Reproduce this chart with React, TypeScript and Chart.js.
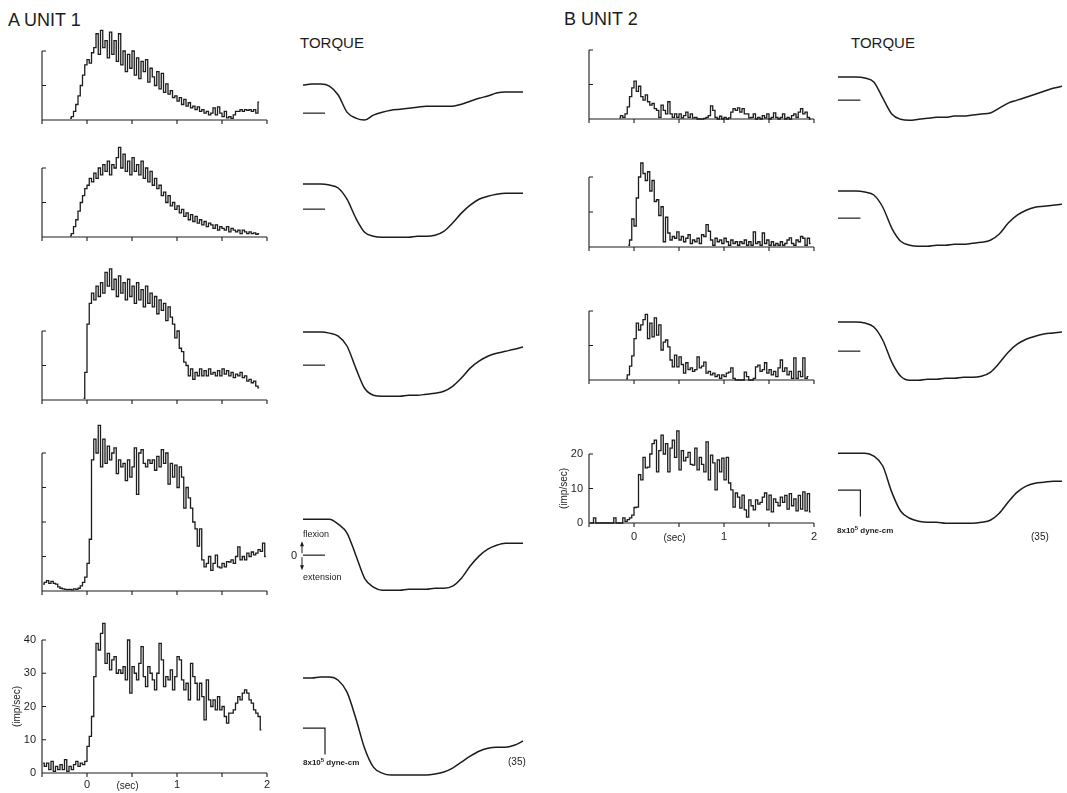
import React, { useEffect, useRef } from "react";
import { Chart, registerables } from "chart.js";

Chart.register(...registerables);

// Discharge histograms: 25 ms bins from -0.5 s to 2.0 s (100 bins)
const BIN_START = -0.5;
const BIN_WIDTH = 0.025;
const TIME_TICKS = [-0.5, 0, 0.5, 1, 1.5, 2];
const TIME_LABELS = [0, 1, 2];
// Torque records sampled every 100 ms, in units of 10^5 dyne-cm
const TORQUE_TIMES = [-0.5, -0.4, -0.3, -0.2, -0.1, 0, 0.1, 0.2, 0.3, 0.4, 0.5, 0.6, 0.7, 0.8, 0.9, 1.0, 1.1, 1.2, 1.3, 1.4, 1.5, 1.6, 1.7, 1.8, 1.9, 2.0];
const TORQUE_BAR = 8;

const N = null;

// Unit 1 firing rate (imp/sec)
const unit1Rate1 = [
  N, N, N, N, N, N, N, N, N, N, N, N, 0.5, 1, 2.5, 4.5, 7, 10, 13, 16,
  17.5, 16.5, 19.5, 21, 25, 19, 26, 21, 23, 18,
  25.5, 19, 23, 17, 25, 16, 20, 14, 19, 15,
  20, 13, 18, 12, 17, 14, 17.5, 11, 15, 12.5,
  10, 14, 9, 13.5, 8, 10.5, 7.5, 8.5, 6.5, 7,
  5.5, 6.5, 4.5, 6, 4, 5, 3.5, 4, 3, 3.8,
  2.5, 3, 2, 2.5, 1.5, 2, 3.5, 1.5, 3.8, 2,
  1, 2.5, 0.6, 1, 0.5, 1.5, 2.5, 2.5, 3, 2.5,
  3, 2.8, 3, 2.5, 3, 2, 5.2, N, N, N,
];
const unit1Rate2 = [
  N, N, N, N, N, N, N, N, N, N, N, N, 0.3, 1, 3, 5, 7.5, 10, 12, 14,
  15, 17, 16, 18.5, 17, 20, 18, 21, 19, 22,
  18, 21, 20, 23, 26, 20, 24, 19, 22, 18,
  23, 19, 21, 18, 22, 17, 20, 16, 19, 15,
  17, 14, 15, 12, 13, 10, 12, 9, 10, 8,
  9, 7, 8, 6, 7, 5, 6.5, 4.5, 6, 4,
  5, 3.5, 4.5, 3, 4, 3.5, 2.5, 3.5, 2, 3,
  2.5, 2, 3, 1.5, 2.5, 2, 1.5, 2, 1, 2,
  1.5, 1, 1.5, 1, 1.2, 0.8, 1, N, N, N,
];
const unit1Rate3 = [
  N, N, N, N, N, N, N, N, N, N, N, N, N, N, N, N, N, N, 0.5, 8,
  22, 28, 31, 29, 33, 30, 34, 31, 37, 33,
  38, 32, 35, 30, 36, 31, 34, 29, 35, 30,
  33, 28, 34, 29, 32, 27, 33, 28, 31, 27,
  30, 25, 29, 26, 28, 23, 27, 24, 22, 18,
  20, 15, 14, 11, 10, 7, 9, 6, 8, 7,
  9, 7, 8.5, 7, 9, 7.5, 8, 7, 8.5, 7,
  9, 7.5, 8.5, 7, 8, 6.5, 7.5, 7, 8, 6.5,
  7, 5.5, 6, 5, 5.5, 4, 3.5, N, N, N,
];
const unit1Rate4 = [
  2, 2.5, 3, 2.2, 2.8, 2.2, 2, 1.2, 0.8, 0.6,
  0.5, 0.4, 0.5, 0.3, 0.6, 0.5, 0.8, 1.5, 2.5, 4,
  8, 15, 38, 44, 40, 48, 36, 44, 37, 42,
  38, 40, 41.5, 34, 38, 36, 37, 32, 38, 33,
  36, 41.5, 28, 40, 41, 37, 36, 38, 37, 38,
  35, 39, 36, 41, 37, 40, 31, 37, 33, 36.5,
  30, 36, 33, 24, 30, 27, 24, 20, 18, 13,
  18, 9, 7, 8, 10, 6, 8, 10.4, 7, 6.7,
  8, 7, 8.5, 8.4, 9, 8, 10, 12.8, 9, 10,
  9, 11, 10, 11.3, 10.5, 11, 12, 11.5, 13.9, 10,
];
const unit1Rate5 = [
  3, 2, 3, 1, 3.5, 0.5, 2, 1, 2.5, 1,
  4, 0.5, 2, 1, 2.5, 3.5, 2, 3, 2.5, 3.5,
  8, 11, 17, 29, 39, 37, 42, 45, 33, 36,
  31, 34, 35, 30, 31, 30, 32, 28, 40, 24,
  32, 30, 28, 33, 38, 29, 26, 32, 30, 28,
  25, 30, 39, 34, 26, 29, 28, 31, 25, 29,
  35, 34, 28, 25, 27, 22, 33, 29, 27, 22,
  27, 23, 16, 28, 22, 20, 22, 19, 23, 19,
  20, 17, 15, 18, 18, 19, 21, 23, 22, 24,
  25, 24, 22, 21, 19, 18, 17, 13, N, N,
];

// Unit 2 firing rate (imp/sec)
const unit2Rate1 = [
  N, N, N, N, N, N, N, N, N, N, N, N, N, 0.3, 1, 0.5, 1.5, 3.5, 6.5, 9,
  11, 8, 9.5, 6.5, 5.5, 7, 5, 4, 4.5, 3,
  2.5, 0.5, 4, 2.5, 1.5, 5, 1.5, 0.5, 1.5, 0.5,
  1.5, 0.3, 1, 2, 0.5, 1.5, 0.3, 0.5, 0, 0,
  0, 0.2, 0.5, 1, 3.8, 2.5, 0.5, 0, 0.8, 0,
  0.5, 0, 0.3, 2, 3, 2.5, 3.2, 2, 3, 1.5,
  1.5, 0.3, 0.5, 1.5, 0, 0.5, 0, 1, 0.3, 1.5,
  0, 0.5, 1.8, 0.5, 0, 0.5, 1.5, 0, 0.5, 0,
  1, 1.5, 0.5, 2, 3, 1.5, 2, 0.5, 0, N,
];
const unit2Rate2 = [
  N, N, N, N, N, N, N, N, N, N, N, N, N, N, N, N, N, 0.5, 2, 8,
  6, 14, 20, 24, 21, 19, 21.5, 16, 19, 13,
  13.5, 9, 11.5, 1.5, 8.5, 4, 2, 3, 2.5, 4.3,
  2, 3, 1.5, 2.5, 3.5, 1, 2, 1.5, 2.5, 1,
  3.5, 3, 6.4, 4.5, 2, 0.5, 2.5, 1.5, 2, 1,
  2.5, 1.5, 0.5, 2, 1, 1.5, 0.5, 1.5, 1, 2,
  0.5, 1.5, 0.5, 4.3, 1, 1.5, 0.5, 4, 1, 2,
  0.5, 1.5, 0.5, 1, 0.5, 1.5, 0.5, 1, 2, 2.6,
  1, 0.5, 2, 1.5, 3, 2.5, 0.5, 2.5, 1, N,
];
const unit2Rate3 = [
  N, N, N, N, N, N, N, N, N, N, N, N, N, N, N, N, 0.3, 1.5, 4, 7,
  12, 16.5, 14.5, 16, 17.5, 19, 12, 16.5, 12.5, 18,
  13, 16, 8.7, 11, 11.6, 9.6, 5.8, 3.8, 7.2, 3.8,
  6.7, 4.5, 2, 5, 3, 3.5, 2.5, 3, 6.7, 3.5,
  4, 5.2, 2, 2.5, 1.5, 2, 1, 1.5, 0.5, 1.5,
  1, 2, 2.3, 3.5, 0.5, 0, 0, 0, 0, 2.3,
  1, 0, 0, 0.5, 3.8, 4.3, 2.5, 3, 5, 2,
  3, 1.5, 2.5, 1, 3.5, 5.8, 2.5, 3.5, 1.5, 2.5,
  0.5, 6.4, 0.5, 2.5, 1, 6.4, 0.5, 1, N, N,
];
const unit2Rate4 = [
  0, 0, 1.5, 0, 0, 0, 0, 0, 0, 0,
  0, 1.5, 0, 0, 0, 1.5, 0.5, 1, 1.5, 2.3,
  4.5, 4.6, 14, 12.5, 19, 16, 16.2, 20, 23, 24,
  14.8, 21, 25.5, 20, 23, 14.8, 21.7, 24, 19, 26.7,
  15.4, 21, 18, 19, 20.5, 17, 16.8, 21.7, 15.4, 19,
  17, 14.8, 23.5, 12.5, 19.7, 17.4, 9.6, 18.3, 14.8, 18.8,
  12.5, 19, 11.6, 9.6, 4.6, 8.7, 7.5, 4.3, 8.1, 3.8,
  1.7, 6.7, 5, 3.8, 6.7, 5.5, 6, 7.5, 8.7, 3.8,
  8.1, 3.2, 7, 6, 5, 7.5, 6, 8, 4, 8.5,
  5, 7, 3.5, 8, 4, 9, 3.5, 8.5, 3.2, N,
];

// Torque (10^5 dyne-cm, flexion positive)
const unit1Torque1 = [8.5, 8.8, 8.8, 8.2, 5.5, 0.3, -1.5, -2.1, -0.6, 0.3, 0.9, 1.2, 1.5, 1.8, 2.1, 2.1, 2.1, 2.1, 2.7, 3.6, 4.5, 5.2, 6.1, 6.4, 6.4, 6.4];
const unit1Torque2 = [7.6, 7.6, 7.6, 7.3, 6.4, 3.0, -2.7, -7.0, -8.2, -8.5, -8.5, -8.5, -8.5, -8.2, -8.2, -7.9, -6.7, -4.2, -1.2, 1.2, 3.0, 3.9, 4.5, 4.8, 4.8, 4.8];
const unit1Torque3 = [10.0, 10.0, 10.0, 9.7, 8.8, 5.8, -0.9, -7.0, -9.1, -9.4, -9.4, -9.4, -9.1, -9.1, -8.8, -8.5, -7.9, -6.4, -3.9, -0.9, 1.2, 2.7, 3.6, 4.2, 4.8, 5.5];
const unit1Torque4 = [10.9, 10.9, 10.9, 10.9, 9.4, 6.7, 0, -7.0, -9.7, -10.6, -10.6, -10.6, -10.3, -10.3, -10.3, -10.0, -10.0, -9.4, -7.0, -3.3, -0.3, 1.8, 3.0, 3.6, 3.6, 3.6];
const unit1Torque5 = [15.2, 15.2, 15.5, 15.5, 14.5, 10.9, 3.0, -6.1, -11.8, -13.6, -14.2, -14.2, -14.2, -14.2, -14.2, -13.9, -13.3, -12.1, -10.3, -8.5, -7.0, -6.1, -5.8, -5.8, -5.2, -3.9];
const unit2Torque1 = [7.0, 7.0, 7.0, 6.7, 5.5, 0.6, -4.2, -5.8, -6.1, -5.8, -5.5, -5.2, -5.2, -4.8, -4.8, -4.5, -4.2, -3.9, -2.4, -0.9, 0, 0.9, 1.8, 2.7, 3.6, 4.2];
const unit2Torque2 = [8.2, 8.2, 8.2, 7.9, 7.0, 3.3, -3.0, -7.0, -8.2, -8.5, -8.5, -8.2, -8.2, -7.9, -7.9, -7.6, -7.3, -6.7, -4.8, -1.5, 0.9, 2.4, 3.3, 3.6, 3.9, 4.2];
const unit2Torque3 = [8.8, 8.8, 8.8, 8.5, 7.3, 3.3, -3.3, -7.6, -8.8, -8.8, -8.5, -8.5, -8.2, -8.2, -7.9, -7.9, -7.6, -6.4, -3.6, -0.3, 2.1, 3.6, 4.5, 5.2, 5.5, 5.8];
const unit2Torque4 = [11.2, 11.2, 11.2, 11.2, 10.3, 7.3, -0.6, -6.4, -8.5, -9.4, -9.7, -9.7, -10.0, -10.0, -10.0, -10.0, -9.7, -9.1, -7.0, -3.6, -0.6, 1.2, 2.1, 2.4, 2.7, 2.7];

const INK = "#1c1c1c";
const FONT = '"Liberation Sans", Arial, sans-serif';

type HistSpec = {
  rates: (number | null)[];
  left: number;
  width: number;
  base: number;
  top: number;
  max: number;
  ticks: number[];
  labelled?: boolean;
  labelGap?: number;
};

type TorqueSpec = {
  values: number[];
  left: number;
  width: number;
  zero: number;
  bar?: boolean;
  arrows?: boolean;
};

const histograms: HistSpec[] = [
  { rates: unit1Rate1, left: 42, width: 225, base: 120, top: 51, max: 20, ticks: [10, 20] },
  { rates: unit1Rate2, left: 42, width: 225, base: 237, top: 168, max: 20, ticks: [10, 20] },
  { rates: unit1Rate3, left: 42, width: 225, base: 400, top: 331, max: 20, ticks: [10, 20] },
  { rates: unit1Rate4, left: 42, width: 225, base: 591, top: 453, max: 40, ticks: [10, 20, 30, 40] },
  { rates: unit1Rate5, left: 42, width: 225, base: 773, top: 640, max: 40, ticks: [10, 20, 30, 40], labelled: true, labelGap: 12 },
  { rates: unit2Rate1, left: 589, width: 225, base: 119, top: 50, max: 20, ticks: [10, 20] },
  { rates: unit2Rate2, left: 589, width: 225, base: 247, top: 177, max: 20, ticks: [10, 20] },
  { rates: unit2Rate3, left: 589, width: 225, base: 380, top: 311, max: 20, ticks: [10, 20] },
  { rates: unit2Rate4, left: 589, width: 225, base: 523, top: 454, max: 20, ticks: [10, 20], labelled: true, labelGap: 14 },
];

const TORQUE_MIN = -16;
const TORQUE_MAX = 17;
const TORQUE_HEIGHT = 109;

const torques: TorqueSpec[] = [
  { values: unit1Torque1, left: 303, width: 220, zero: 113 },
  { values: unit1Torque2, left: 303, width: 220, zero: 209 },
  { values: unit1Torque3, left: 303, width: 220, zero: 365 },
  { values: unit1Torque4, left: 303, width: 220, zero: 555, arrows: true },
  { values: unit1Torque5, left: 303, width: 220, zero: 728, bar: true },
  { values: unit2Torque1, left: 838, width: 224, zero: 100 },
  { values: unit2Torque2, left: 838, width: 224, zero: 218 },
  { values: unit2Torque3, left: 838, width: 224, zero: 351 },
  { values: unit2Torque4, left: 838, width: 224, zero: 490, bar: true },
];

function Histogram({ spec }: { spec: HistSpec }) {
  const ref = useRef<HTMLCanvasElement>(null);
  // room above the axis for peaks that rise past the last tick
  const peak = Math.max(...spec.rates.map((r) => (r == null ? 0 : r)));
  const pxPerUnit = (spec.base - spec.top) / spec.max;
  const headroom = Math.max(10, Math.ceil((peak - spec.max) * pxPerUnit) + 8);
  const pad = spec.labelled
    ? { left: 50, right: 14, top: headroom, bottom: 26 }
    : { left: 6, right: 8, top: headroom, bottom: 8 };
  const w = spec.width + pad.left + pad.right;
  const h = spec.base - spec.top + pad.top + pad.bottom;

  useEffect(() => {
    const axes = {
      id: "histAxes",
      beforeDatasetsDraw(chart: any) {
        const { ctx } = chart;
        const x = chart.scales.x;
        const y = chart.scales.y;
        const x0 = x.getPixelForValue(-0.5);
        const x1 = x.getPixelForValue(2);
        const y0 = y.getPixelForValue(0);
        const yTop = y.getPixelForValue(spec.max);
        ctx.save();
        ctx.strokeStyle = INK;
        ctx.lineWidth = 1.1;
        ctx.beginPath();
        ctx.moveTo(x0, yTop);
        ctx.lineTo(x0, y0);
        ctx.lineTo(x1, y0);
        spec.ticks.forEach((v) => {
          const py = y.getPixelForValue(v);
          ctx.moveTo(x0, py);
          ctx.lineTo(x0 + 4, py);
        });
        TIME_TICKS.forEach((t) => {
          const px = x.getPixelForValue(t);
          ctx.moveTo(px, y0);
          ctx.lineTo(px, y0 + 4);
        });
        ctx.stroke();
        if (spec.labelled) {
          ctx.fillStyle = INK;
          ctx.font = `11px ${FONT}`;
          ctx.textBaseline = "middle";
          ctx.textAlign = "right";
          [0, ...spec.ticks].forEach((v) => ctx.fillText(String(v), x0 - 6, y.getPixelForValue(v)));
          ctx.textAlign = "center";
          const gap = spec.labelGap || 13;
          TIME_LABELS.forEach((t) => ctx.fillText(String(t), x.getPixelForValue(t), y0 + gap));
          ctx.font = `10px ${FONT}`;
          ctx.fillText("(sec)", x.getPixelForValue(0.45), y0 + gap + 1);
          ctx.translate(x0 - 25, y.getPixelForValue(spec.max / 2));
          ctx.rotate(-Math.PI / 2);
          ctx.fillText("(imp/sec)", 0, 0);
        }
        ctx.restore();
      },
    };
    const chart = new Chart(ref.current as HTMLCanvasElement, {
      type: "line",
      data: {
        datasets: [
          {
            data: spec.rates.map((r, i) => ({ x: BIN_START + BIN_WIDTH * (i + 0.5), y: r })),
            borderColor: INK,
            borderWidth: 1.3,
            pointRadius: 0,
            stepped: "middle",
            fill: false,
            clip: false as any,
          } as any,
        ],
      },
      options: {
        responsive: false,
        animation: false,
        events: [],
        layout: { padding: pad },
        plugins: { legend: { display: false }, tooltip: { enabled: false } },
        scales: {
          x: { type: "linear", display: false, min: -0.5, max: 2 },
          y: { type: "linear", display: false, min: 0, max: spec.max },
        },
      },
      plugins: [axes],
    });
    return () => chart.destroy();
  }, []);

  return (
    <canvas
      ref={ref}
      width={w}
      height={h}
      style={{ position: "absolute", left: spec.left - pad.left, top: spec.top - pad.top, width: w, height: h }}
    />
  );
}

function Torque({ spec }: { spec: TorqueSpec }) {
  const ref = useRef<HTMLCanvasElement>(null);
  const pad = { left: 8, right: 8, top: 6, bottom: 6 };
  const w = spec.width + pad.left + pad.right;
  const h = TORQUE_HEIGHT + pad.top + pad.bottom;
  const areaTop = Math.round(spec.zero - (TORQUE_MAX / (TORQUE_MAX - TORQUE_MIN)) * TORQUE_HEIGHT);

  useEffect(() => {
    const marks = {
      id: "torqueMarks",
      afterDatasetsDraw(chart: any) {
        const { ctx } = chart;
        const x = chart.scales.x;
        const y = chart.scales.y;
        const xs = x.getPixelForValue(-0.5);
        const xe = x.getPixelForValue(-0.25);
        const yz = y.getPixelForValue(0);
        ctx.save();
        ctx.strokeStyle = INK;
        ctx.fillStyle = INK;
        ctx.lineWidth = 1.2;
        ctx.beginPath();
        ctx.moveTo(xs, yz);
        ctx.lineTo(xe, yz);
        if (spec.bar) {
          ctx.lineTo(xe, y.getPixelForValue(-TORQUE_BAR));
        }
        ctx.stroke();
        if (spec.arrows) {
          const ax = xs - 1;
          ctx.lineWidth = 1;
          ctx.beginPath();
          ctx.moveTo(ax, yz - 2);
          ctx.lineTo(ax, yz - 12);
          ctx.moveTo(ax, yz + 2);
          ctx.lineTo(ax, yz + 13);
          ctx.stroke();
          ctx.beginPath();
          ctx.moveTo(ax, yz - 14);
          ctx.lineTo(ax - 2, yz - 9);
          ctx.lineTo(ax + 2, yz - 9);
          ctx.closePath();
          ctx.moveTo(ax, yz + 15);
          ctx.lineTo(ax - 2, yz + 10);
          ctx.lineTo(ax + 2, yz + 10);
          ctx.closePath();
          ctx.fill();
        }
        ctx.restore();
      },
    };
    const chart = new Chart(ref.current as HTMLCanvasElement, {
      type: "line",
      data: {
        datasets: [
          {
            data: spec.values.map((v, i) => ({ x: TORQUE_TIMES[i], y: v })),
            borderColor: INK,
            borderWidth: 1.5,
            pointRadius: 0,
            cubicInterpolationMode: "monotone",
            fill: false,
            clip: false as any,
          } as any,
        ],
      },
      options: {
        responsive: false,
        animation: false,
        events: [],
        layout: { padding: pad },
        plugins: { legend: { display: false }, tooltip: { enabled: false } },
        scales: {
          x: { type: "linear", display: false, min: -0.5, max: 2 },
          y: { type: "linear", display: false, min: TORQUE_MIN, max: TORQUE_MAX },
        },
      },
      plugins: [marks],
    });
    return () => chart.destroy();
  }, []);

  return (
    <canvas
      ref={ref}
      width={w}
      height={h}
      style={{ position: "absolute", left: spec.left - pad.left, top: areaTop - pad.top, width: w, height: h }}
    />
  );
}

function Text({ x, y, size, children, weight }: { x: number; y: number; size: number; children: React.ReactNode; weight?: number }) {
  return (
    <div
      style={{
        position: "absolute",
        left: x,
        top: y,
        transform: "translateY(-50%)",
        fontFamily: FONT,
        fontSize: size,
        fontWeight: weight || 400,
        color: INK,
        lineHeight: 1,
        whiteSpace: "nowrap",
      }}
    >
      {children}
    </div>
  );
}

export default function App() {
  return (
    <div style={{ position: "absolute", left: 0, top: 0, width: 1067, height: 793, background: "#fff", overflow: "hidden" }}>
      <Text x={8} y={20} size={18}>A UNIT 1</Text>
      <Text x={300} y={42} size={15}>TORQUE</Text>
      <Text x={564} y={19} size={18}>B UNIT 2</Text>
      <Text x={851} y={42} size={15}>TORQUE</Text>

      {histograms.map((s, i) => (
        <Histogram key={`h${i}`} spec={s} />
      ))}
      {torques.map((s, i) => (
        <Torque key={`t${i}`} spec={s} />
      ))}

      <Text x={303} y={534} size={9}>flexion</Text>
      <Text x={291} y={555} size={11}>0</Text>
      <Text x={303} y={577} size={9}>extension</Text>

      <Text x={303} y={762} size={8} weight={700}>
        8x10<sup style={{ fontSize: 6 }}>5</sup> dyne-cm
      </Text>
      <Text x={508} y={762} size={10}>(35)</Text>
      <Text x={837} y={530} size={8} weight={700}>
        8x10<sup style={{ fontSize: 6 }}>5</sup> dyne-cm
      </Text>
      <Text x={1031} y={537} size={10}>(35)</Text>
    </div>
  );
}
